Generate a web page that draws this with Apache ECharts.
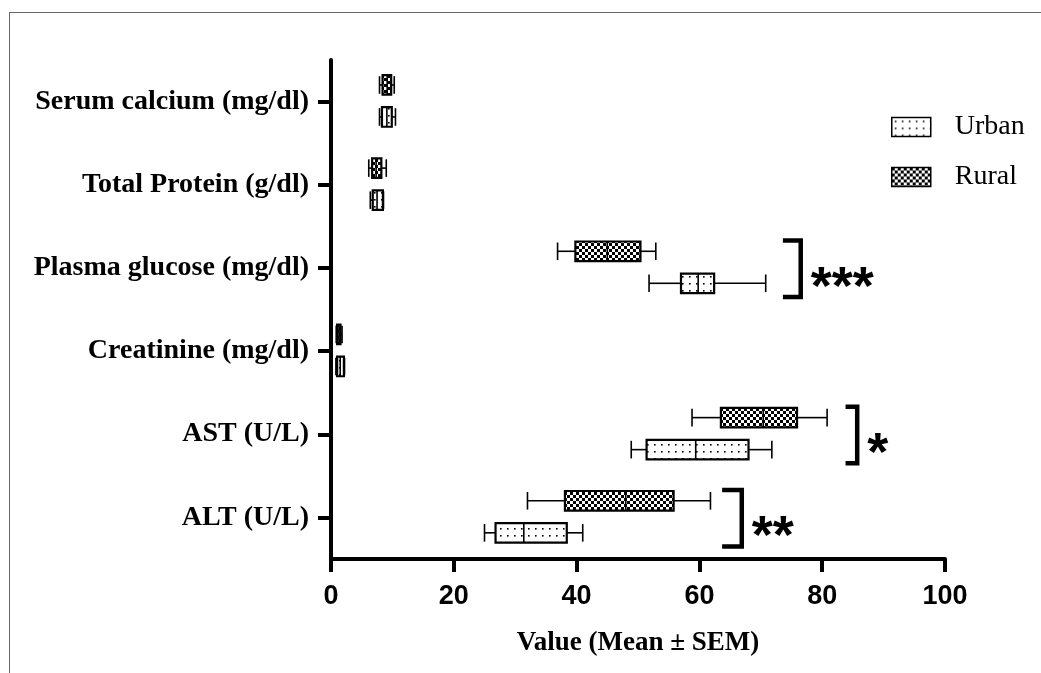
<!DOCTYPE html>
<html><head><meta charset="utf-8">
<script src="https://cdn.jsdelivr.net/npm/echarts@6/dist/echarts.min.js"></script>
<style>
html,body{margin:0;padding:0;background:#fff;}
#frame{position:absolute;left:9px;top:12px;width:1100px;height:700px;border-left:1.5px solid #666;border-top:1.5px solid #666;}
#chart{position:absolute;left:0;top:0;width:1041px;height:673px;}
</style></head>
<body>
<div id="frame"></div>
<div id="chart"></div>
<script>
// Categories (bottom to top on the y axis)
const categories = ['ALT (U/L)', 'AST (U/L)', 'Creatinine (mg/dl)', 'Plasma glucose (mg/dl)', 'Total Protein (g/dl)', 'Serum calcium (mg/dl)'];
// Box values per category: [min, Q1, median, Q3, max]
const urbanBoxes = [
  [25.0, 26.8, 31.4, 38.4, 41.0],
  [48.9, 51.4, 59.4, 68.0, 71.8],
  [0.8, 1.0, 1.5, 2.1, 2.2],
  [51.8, 57.0, 59.8, 62.4, 70.8],
  [6.4, 6.8, 7.5, 8.45, 8.55],
  [7.9, 8.3, 9.1, 9.9, 10.5]
];
const ruralBoxes = [
  [32.0, 38.1, 48.0, 55.8, 61.8],
  [58.8, 63.5, 70.4, 75.9, 80.8],
  [0.85, 1.0, 1.3, 1.55, 1.8],
  [36.9, 39.8, 45.0, 50.4, 52.9],
  [6.15, 6.7, 7.35, 8.2, 9.0],
  [7.9, 8.4, 9.15, 9.8, 10.3]
];
// Significance brackets: [category index, stub end value, bar value]
const bracketPos = [
  [0, 63.7, 66.9],
  [1, 83.8, 85.7],
  [3, 73.6, 76.5]
];
const bracketLabels = ['**', '*', '***'];
const xTicks = [0, 20, 40, 60, 80, 100];
const seriesNames = ['Urban', 'Rural'];
const axisTitle = 'Value (Mean \u00B1 SEM)';

function makePattern(type) {
  const c = document.createElement('canvas');
  const g = c.getContext('2d');
  if (type === 'check') {
    c.width = 6; c.height = 6;
    g.fillStyle = '#fff'; g.fillRect(0, 0, 6, 6);
    g.fillStyle = '#000'; g.fillRect(0, 0, 3, 3); g.fillRect(3, 3, 3, 3);
  } else {
    c.width = 7; c.height = 7;
    g.fillStyle = '#fff'; g.fillRect(0, 0, 7, 7);
    g.fillStyle = '#000'; g.fillRect(3, 3, 1.6, 1.6);
  }
  return { image: c, repeat: 'repeat' };
}
const dotFill = makePattern('dot');
const checkFill = makePattern('check');

function boxRenderer(offsetFrac) {
  return function (params, api) {
    const ci = api.value(0);
    const vals = [1, 2, 3, 4, 5].map(i => api.value(i));
    const center = api.coord([0, ci]);
    const band = api.size([0, 1])[1];
    const yc = center[1] + offsetFrac * band;
    const h = band * 0.235;
    const xs = vals.map(v => api.coord([v, ci])[0]);
    const cap = h * 0.45;
    const lw = 1.6;
    const stroke = { stroke: '#000', lineWidth: lw };
    return {
      type: 'group',
      children: [
        { type: 'line', shape: { x1: xs[0], y1: yc, x2: xs[1], y2: yc }, style: stroke },
        { type: 'line', shape: { x1: xs[3], y1: yc, x2: xs[4], y2: yc }, style: stroke },
        { type: 'line', shape: { x1: xs[0], y1: yc - cap, x2: xs[0], y2: yc + cap }, style: stroke },
        { type: 'line', shape: { x1: xs[4], y1: yc - cap, x2: xs[4], y2: yc + cap }, style: stroke },
        { type: 'rect', shape: { x: xs[1], y: yc - h / 2, width: Math.max(xs[3] - xs[1], 1), height: h },
          style: { fill: api.visual('color'), stroke: '#000', lineWidth: 2.2 } },
        { type: 'line', shape: { x1: xs[2], y1: yc - h / 2, x2: xs[2], y2: yc + h / 2 }, style: stroke }
      ]
    };
  };
}

const chart = echarts.init(document.getElementById('chart'), null, { renderer: 'canvas' });
chart.setOption({
  animation: false,
  grid: { left: 331, right: 96, top: 60, bottom: 114, outerBoundsMode: 'none', containLabel: false },
  legend: {
    orient: 'vertical', left: 891, top: 113, padding: 0, itemWidth: 39, itemHeight: 19, itemGap: 22,
    data: [
      { name: seriesNames[0], icon: 'rect', itemStyle: { color: dotFill, borderColor: '#000', borderWidth: 1.5 } },
      { name: seriesNames[1], icon: 'rect', itemStyle: { color: checkFill, borderColor: '#000', borderWidth: 1.5 } }
    ],
    textStyle: { fontFamily: 'Liberation Serif', fontSize: 28, lineHeight: 28, color: '#000', padding: [0, 0, 0, 19] }
  },
  xAxis: {
    type: 'value', min: xTicks[0], max: xTicks[xTicks.length - 1], interval: 20,
    name: axisTitle, nameLocation: 'middle', nameGap: 71,
    nameTextStyle: { fontFamily: 'Liberation Serif', fontWeight: 'bold', fontSize: 27, color: '#000' },
    axisLine: { show: true, lineStyle: { color: '#000', width: 4 } },
    axisTick: { show: true, length: 13, lineStyle: { color: '#000', width: 4 } },
    axisLabel: { margin: 24, fontFamily: 'Liberation Sans', fontWeight: 'bold', fontSize: 27, color: '#000' },
    splitLine: { show: false }
  },
  yAxis: {
    type: 'category', data: categories,
    axisLine: { show: true, lineStyle: { color: '#000', width: 4 } },
    axisTick: { show: true, alignWithLabel: true, length: 13, lineStyle: { color: '#000', width: 4 } },
    axisLabel: { margin: 22, fontFamily: 'Liberation Serif', fontWeight: 'bold', fontSize: 28, color: '#000' },
    splitLine: { show: false }
  },
  series: [
    {
      name: seriesNames[0], type: 'custom', itemStyle: { color: dotFill },
      encode: { x: [1, 2, 3, 4, 5], y: 0 },
      data: urbanBoxes.map((b, i) => [i].concat(b)),
      renderItem: boxRenderer(0.185)
    },
    {
      name: seriesNames[1], type: 'custom', itemStyle: { color: checkFill },
      encode: { x: [1, 2, 3, 4, 5], y: 0 },
      data: ruralBoxes.map((b, i) => [i].concat(b)),
      renderItem: boxRenderer(-0.2)
    },
    {
      name: 'sig', type: 'custom', silent: true,
      encode: { x: [1, 2], y: 0 },
      data: bracketPos,
      renderItem: function (params, api) {
        const ci = api.value(0);
        const band = api.size([0, 1])[1];
        const c = api.coord([api.value(2), ci]);
        const xs = api.coord([api.value(1), ci])[0];
        const top = c[1] - band * 0.33, bot = c[1] + band * 0.35;
        return {
          type: 'group',
          children: [
            { type: 'polyline', shape: { points: [[xs, top], [c[0], top], [c[0], bot], [xs, bot]] },
              style: { stroke: '#000', lineWidth: 4.5, fill: null } },
            { type: 'text', x: c[0] + 10, y: c[1] + 21,
              style: { text: bracketLabels[params.dataIndex], fontFamily: 'Liberation Sans', fontWeight: 'bold',
                       fontSize: 54, fill: '#000', align: 'left', verticalAlign: 'middle' } }
          ]
        };
      }
    }
  ]
});
</script>
</body></html>
